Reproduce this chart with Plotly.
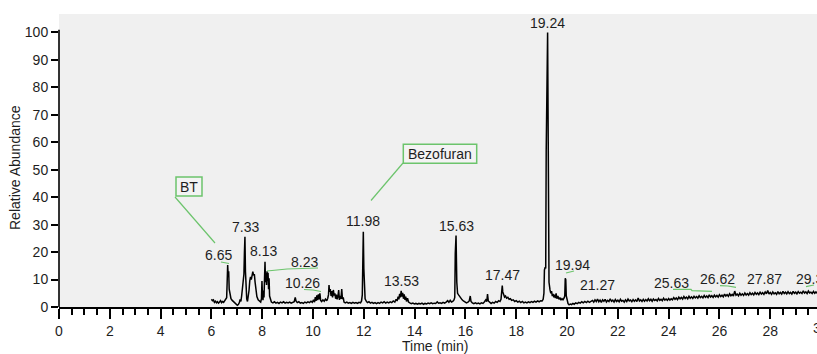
import plotly.graph_objects as go

# ---------------- data ----------------
seg_06_09 = [(6.00,2.8),(6.04,2.3),(6.08,2.6),(6.12,1.7),(6.16,2.1),(6.20,1.5),(6.24,1.9),(6.28,1.4),(6.32,1.8),(6.36,2.3),
             (6.40,1.6),(6.44,2.0),(6.48,1.7),(6.52,2.2),(6.56,2.6),(6.60,3.4),(6.62,9.0),(6.64,15.3),(6.66,11.5),(6.68,13.0),
             (6.70,6.5),(6.73,4.0),(6.77,3.0),(6.82,2.4),(6.87,1.9),(6.92,1.4),(6.97,1.0),(7.02,0.6),(7.06,0.9),(7.10,1.6),
             (7.13,2.8),(7.16,2.0),(7.19,4.0),(7.22,6.5),(7.25,10.5),(7.28,12.0),(7.30,20.0),(7.32,25.6),(7.34,13.0),(7.36,5.0),
             (7.39,3.0),(7.42,2.0),(7.45,3.5),(7.48,6.0),(7.51,9.5),(7.54,11.0),(7.57,10.0),(7.60,12.2),(7.63,12.9),(7.66,11.5),
             (7.69,12.0),(7.72,9.0),(7.75,6.0),(7.79,3.8),(7.84,2.6),(7.89,2.0),(7.94,1.8),(7.97,3.0),(7.99,9.5),(8.01,4.0),
             (8.03,2.5),(8.05,6.0),(8.07,3.5),(8.09,10.0),(8.11,16.5),(8.13,9.0),(8.15,12.5),(8.17,8.0),(8.19,13.0),(8.21,9.5),
             (8.23,12.5),(8.25,6.5),(8.27,10.5),(8.29,4.0),(8.32,2.5),(8.36,1.8),(8.42,1.5),(8.48,1.9),(8.54,1.4),(8.60,1.7),
             (8.66,1.3),(8.72,1.8),(8.78,1.5),(8.84,1.9),(8.90,1.4),(8.96,1.7)]

seg_09_12 = [(9.02,1.5),(9.08,1.8),(9.14,1.4),(9.20,1.7),(9.26,1.9),(9.30,3.5),(9.33,2.2),(9.38,1.6),(9.44,1.9),(9.50,1.4),
             (9.56,1.6),(9.62,1.3),(9.68,1.8),(9.74,1.5),(9.80,1.9),(9.86,1.6),(9.92,2.1),(9.97,1.7),(10.02,2.6),(10.06,1.8),
             (10.09,3.6),(10.12,2.2),(10.15,4.2),(10.18,2.5),(10.21,4.6),(10.24,2.8),(10.27,5.0),(10.30,2.4),(10.34,2.0),(10.39,2.6),
             (10.44,2.1),(10.49,2.9),(10.54,2.3),(10.58,3.2),(10.61,4.5),(10.63,8.0),(10.65,5.5),(10.68,6.5),(10.71,4.0),(10.74,5.8),
             (10.77,3.5),(10.80,6.2),(10.83,4.2),(10.86,5.0),(10.89,3.0),(10.92,4.5),(10.95,2.8),(10.98,3.8),(11.01,6.2),(11.04,2.6),
             (11.07,4.0),(11.10,3.0),(11.13,6.5),(11.16,2.8),(11.19,3.5),(11.22,1.8),(11.27,1.5),(11.33,1.8),(11.39,1.4),(11.45,1.6),
             (11.51,1.3),(11.57,1.7),(11.63,1.4),(11.69,1.6),(11.75,1.3),(11.81,1.7),(11.87,1.5),(11.91,2.2),(11.94,4.4),(11.96,16.0),
             (11.98,27.4),(12.00,14.0),(12.02,5.0)]

seg_12_15 = [(12.05,3.0),(12.09,2.2),(12.14,1.6),(12.20,1.9),(12.26,1.4),(12.32,1.7),(12.38,1.3),(12.44,1.6),(12.50,1.2),(12.56,1.6),
             (12.62,1.3),(12.68,1.8),(12.74,1.5),(12.80,1.9),(12.86,1.4),(12.92,1.8),(12.98,1.5),(13.04,1.9),(13.10,1.6),(13.16,2.2),
             (13.22,1.8),(13.27,2.8),(13.31,2.2),(13.35,3.8),(13.38,2.8),(13.41,4.8),(13.44,3.5),(13.47,5.9),(13.50,3.8),(13.53,5.2),
             (13.56,3.0),(13.59,4.6),(13.62,2.6),(13.65,3.8),(13.68,2.0),(13.72,3.2),(13.76,1.8),(13.81,1.5),(13.87,1.2),(13.93,1.4),
             (13.99,1.1),(14.05,1.3),(14.11,1.0),(14.17,1.3),(14.23,1.1),(14.29,1.4),(14.35,1.0),(14.41,1.3),(14.47,1.1),(14.53,1.4),
             (14.59,1.2),(14.65,1.5),(14.71,1.2),(14.77,1.4),(14.83,1.3),(14.89,1.9),(14.94,1.4)]

seg_15_19 = [(15.00,1.5),(15.06,1.3),(15.12,1.7),(15.18,1.4),(15.24,1.8),(15.30,2.3),(15.35,1.7),(15.40,2.4),(15.45,1.8),(15.50,2.0),
             (15.55,2.6),(15.58,3.5),(15.60,19.5),(15.63,26.0),(15.66,9.0),(15.69,5.0),(15.73,4.4),(15.77,3.8),(15.82,3.2),(15.87,2.6),
             (15.92,2.2),(15.98,1.8),(16.04,1.5),(16.10,1.8),(16.15,2.2),(16.19,4.0),(16.22,2.0),(16.27,1.5),(16.33,1.2),(16.39,1.5),
             (16.45,1.2),(16.51,1.4),(16.57,1.1),(16.63,1.5),(16.69,1.3),(16.75,1.9),(16.80,2.6),(16.84,2.0),(16.87,4.7),(16.90,2.2),
             (16.95,1.6),(17.01,1.3),(17.07,1.7),(17.13,1.4),(17.19,2.0),(17.25,1.7),(17.31,2.3),(17.36,2.0),(17.40,2.8),(17.43,5.0),
             (17.45,7.8),(17.47,5.5),(17.50,4.4),(17.54,3.6),(17.58,4.0),(17.62,3.2),(17.67,3.5),(17.72,2.8),(17.77,3.0),(17.82,2.4),
             (17.88,2.6),(17.94,2.0),(18.00,2.3),(18.06,1.8),(18.12,2.1),(18.18,1.6),(18.24,2.0),(18.30,1.5),(18.36,1.8),(18.42,1.5),
             (18.48,1.9),(18.54,1.6),(18.60,2.0),(18.66,1.7),(18.72,2.1),(18.78,1.8),(18.84,2.2),(18.90,1.9),(18.96,2.3)]

seg_19_21 = [(19.02,2.2),(19.06,2.8),(19.09,5.0),(19.11,13.5),(19.14,14.5),(19.16,14.0),(19.18,57.0),(19.235,100.0),(19.26,15.5),
             (19.29,9.0),(19.33,6.2),(19.36,5.0),(19.39,5.8),(19.42,4.0),(19.45,4.8),(19.48,3.5),(19.51,4.5),(19.54,3.2),(19.57,5.0),
             (19.60,3.0),(19.64,4.0),(19.68,2.8),(19.72,3.4),(19.76,2.5),(19.80,3.0),(19.84,2.6),(19.88,3.2),(19.91,4.0),(19.93,10.5),
             (19.95,10.0),(19.97,4.0),(20.00,2.0),(20.04,1.2),(20.08,0.8),(20.13,1.1),(20.18,0.9),(20.23,1.3),(20.28,1.0),(20.34,1.5),
             (20.40,1.2),(20.46,1.7),(20.52,1.4),(20.58,1.9),(20.64,1.5),(20.70,2.0),(20.76,1.6),(20.82,2.1),(20.88,1.7),(20.94,2.2)]

seg_21_25 = [(21.00,2.4),(21.05,1.8),(21.10,2.6),(21.15,2.0),(21.20,2.9),(21.25,1.9),(21.30,2.5),(21.35,1.7),(21.40,2.6),(21.45,2.1),
             (21.50,2.8),(21.55,1.8),(21.60,2.4),(21.65,2.0),(21.70,3.0),(21.75,2.1),(21.80,2.5),(21.85,1.8),(21.90,2.7),(21.95,2.0),
             (22.00,2.5),(22.05,1.9),(22.10,2.8),(22.15,2.1),(22.20,2.4),(22.25,1.8),(22.30,2.6),(22.35,2.0),(22.40,2.9),(22.45,2.2),
             (22.50,2.5),(22.55,1.9),(22.60,2.7),(22.65,2.1),(22.70,2.6),(22.75,2.0),(22.80,3.3),(22.85,2.2),(22.90,2.6),(22.95,2.0),
             (23.00,2.8),(23.05,2.1),(23.10,2.7),(23.15,2.2),(23.20,3.0),(23.25,2.3),(23.30,2.8),(23.35,2.1),(23.40,2.9),(23.45,2.4),
             (23.50,2.7),(23.55,2.2),(23.60,3.1),(23.65,2.4),(23.70,2.8),(23.75,2.3),(23.80,3.2),(23.85,2.5),(23.90,2.9),(23.95,2.4),
             (24.00,3.1),(24.05,2.5),(24.10,3.0),(24.15,2.6),(24.20,3.4),(24.25,2.8),(24.30,3.3),(24.35,2.7),(24.40,3.6),(24.45,3.0),
             (24.50,3.5),(24.55,2.9),(24.60,3.8),(24.65,3.1),(24.70,3.6),(24.75,3.0),(24.80,3.9),(24.85,3.2),(24.90,3.7),(24.95,3.1)]

seg_25_30 = [(25.00,3.9),(25.05,3.3),(25.10,3.8),(25.15,3.2),(25.20,4.1),(25.25,3.4),(25.30,3.9),(25.35,3.3),(25.40,4.2),(25.45,3.5),
             (25.50,4.0),(25.55,3.4),(25.60,4.4),(25.65,3.6),(25.70,4.1),(25.75,3.5),(25.80,4.3),(25.85,3.7),(25.90,4.2),(25.95,3.6),
             (26.00,4.5),(26.05,3.8),(26.10,4.3),(26.15,3.7),(26.20,4.7),(26.25,4.0),(26.30,4.5),(26.35,3.9),(26.40,4.8),(26.45,4.1),
             (26.50,4.6),(26.55,4.0),(26.60,5.8),(26.65,4.3),(26.70,4.7),(26.75,4.1),(26.80,5.0),(26.85,4.3),(26.90,4.8),(26.95,4.2),
             (27.00,5.1),(27.05,4.4),(27.10,4.9),(27.15,4.3),(27.20,5.2),(27.25,4.5),(27.30,5.0),(27.35,4.4),(27.40,5.3),(27.45,4.6),
             (27.50,5.1),(27.55,4.5),(27.60,5.4),(27.65,4.7),(27.70,5.2),(27.75,4.6),(27.80,5.5),(27.85,4.8),(27.90,6.0),(27.95,4.7),
             (28.00,5.3),(28.05,4.6),(28.10,5.5),(28.15,4.8),(28.20,5.2),(28.25,4.6),(28.30,5.6),(28.35,4.8),(28.40,5.3),(28.45,4.7),
             (28.50,5.7),(28.55,4.9),(28.60,5.4),(28.65,4.8),(28.70,5.6),(28.75,4.9),(28.80,5.3),(28.85,4.7),(28.90,5.7),(28.95,5.0),
             (29.00,5.4),(29.05,4.8),(29.10,5.6),(29.15,5.0),(29.20,5.4),(29.25,4.9),(29.30,5.9),(29.35,5.1),(29.40,5.5),(29.45,4.9),
             (29.50,5.8),(29.55,5.1),(29.60,5.4),(29.65,4.9),(29.70,5.7),(29.75,5.0),(29.80,5.5),(29.85,5.0),(29.90,5.8),(29.95,5.2)]

peak_labels = ["6.65", "7.33", "8.13", "8.23", "10.26", "11.98", "13.53", "15.63",
               "17.47", "19.24", "19.94", "21.27", "25.63", "26.62", "27.87", "29.39"]
compound_labels = ["BT", "Bezofuran"]
x_tick_values = [0, 2, 4, 6, 8, 10, 12, 14, 16, 18, 20, 22, 24, 26, 28]
y_tick_values = [0, 10, 20, 30, 40, 50, 60, 70, 80, 90, 100]
last_x_tick = 30

# ---------------- layout geometry ----------------
W, H = 817, 354
ML, MT, MB = 59, 14, 47
X_MAX = 29.84
Y_MAX = 106.7
PX_PER_X = (W - ML) / X_MAX
PX_PER_Y = (H - MT - MB) / Y_MAX
Y0_PX = H - MB


def dx(px):
    return (px - ML) / PX_PER_X


def dy(py):
    return (Y0_PX - py) / PX_PER_Y


series = seg_06_09 + seg_09_12 + seg_12_15 + seg_15_19 + seg_19_21 + seg_21_25 + seg_25_30
time_min = [p[0] for p in series]
abundance = [p[1] for p in series]

FONT = "Arial, 'Liberation Sans', sans-serif"
TXT = "#1e1e1e"
GREEN = "#6cc46c"
FS = 14

fig = go.Figure()
fig.add_trace(go.Scatter(x=time_min, y=abundance, mode="lines",
                         line=dict(color="black", width=1.5), hoverinfo="skip"))

# peak label placements (pixel centres)
label_pos = [(218, 255), (245.5, 226.5), (263.5, 251), (304, 262), (302, 283), (363, 221),
             (401, 281), (456, 226), (502, 275), (547, 22.5), (572, 265), (597, 285),
             (671, 283), (717, 279), (764, 279), (813, 279)]
annotations = []
for txt, (cx, cy) in zip(peak_labels, label_pos):
    annotations.append(dict(x=dx(cx), y=dy(cy), xref="x", yref="y", text=txt, showarrow=False,
                            font=dict(family=FONT, size=FS, color=TXT), xanchor="center", yanchor="middle"))

box_pos = [((176, 177, 202, 196), (189, 186.5)), ((403.3, 144.3, 476.7, 163.3), (440, 154))]
shapes = []
for txt, ((x0, y0, x1, y1), (cx, cy)) in zip(compound_labels, box_pos):
    shapes.append(dict(type="rect", xref="x", yref="y", x0=dx(x0), x1=dx(x1), y0=dy(y1), y1=dy(y0),
                       line=dict(color=GREEN, width=1.5), fillcolor="#f3f3f3", layer="above"))
    annotations.append(dict(x=dx(cx), y=dy(cy), xref="x", yref="y", text=txt, showarrow=False,
                            font=dict(family=FONT, size=FS, color=TXT), xanchor="center", yanchor="middle"))

leaders = [
    [(175, 197), (215, 243)],
    [(403, 163), (371, 200.5)],
    [(221, 262), (229, 263.5)],
    [(267, 271), (287, 269), (318, 268)],
    [(304, 289.5), (313, 290), (321, 291.5)],
    [(566, 273), (574, 271)],
    [(673, 289.3), (691, 289.3), (692, 290.7), (712, 291.3)],
    [(720, 285.7), (728, 286), (736, 287.3)],
    [(806, 286.7), (814, 285)],
]
for pts in leaders:
    path = "M " + " L ".join(f"{dx(px):.4f},{dy(py):.4f}" for px, py in pts)
    shapes.append(dict(type="path", xref="x", yref="y", path=path,
                       line=dict(color=GREEN, width=1.2), layer="above"))

# y axis line only up to ~101
shapes.append(dict(type="line", xref="paper", yref="y", x0=0, x1=0, y0=0, y1=101,
                   line=dict(color="black", width=1.6)))

# axis titles and the partly visible "30" tick label at the right edge
annotations.append(dict(x=(15 - ML) / (W - ML), y=(Y0_PX - 168) / (H - MT - MB), xref="paper", yref="paper",
                        text="Relative Abundance", textangle=-90, showarrow=False,
                        font=dict(family=FONT, size=FS, color=TXT), xanchor="center", yanchor="middle"))
annotations.append(dict(x=(435 - ML) / (W - ML), y=-(346 - Y0_PX) / (H - MT - MB), xref="paper", yref="paper",
                        text="Time (min)", showarrow=False,
                        font=dict(family=FONT, size=FS, color=TXT), xanchor="center", yanchor="middle"))
annotations.append(dict(x=last_x_tick / X_MAX, y=-(328 - Y0_PX) / (H - MT - MB), xref="paper", yref="paper",
                        text=str(last_x_tick), showarrow=False,
                        font=dict(family=FONT, size=FS, color=TXT), xanchor="center", yanchor="middle"))

fig.update_layout(
    width=W, height=H,
    margin=dict(l=ML, r=0, t=MT, b=MB, pad=0),
    paper_bgcolor="white", plot_bgcolor="#f0f0f0",
    showlegend=False,
    font=dict(family=FONT, size=FS, color=TXT),
    annotations=annotations, shapes=shapes,
    xaxis=dict(range=[0, X_MAX], tickmode="array", tickvals=x_tick_values,
               ticks="outside", ticklen=10, tickwidth=1.5, tickcolor="black",
               minor=dict(dtick=0.5, tick0=0, ticks="outside", ticklen=6, tickwidth=1.5, tickcolor="black"),
               showline=True, linecolor="black", linewidth=1.6, showgrid=False, zeroline=False,
               automargin=False, tickfont=dict(family=FONT, size=FS, color=TXT)),
    yaxis=dict(range=[0, Y_MAX], tickmode="array", tickvals=y_tick_values,
               ticks="outside", ticklen=7, tickwidth=1.5, tickcolor="black",
               showline=False, showgrid=False, zeroline=False,
               automargin=False, tickfont=dict(family=FONT, size=FS, color=TXT)),
)

fig.write_html("out.html", config={"displayModeBar": False},
               post_script="document.body.style.margin='0px';document.body.style.overflow='hidden';")
